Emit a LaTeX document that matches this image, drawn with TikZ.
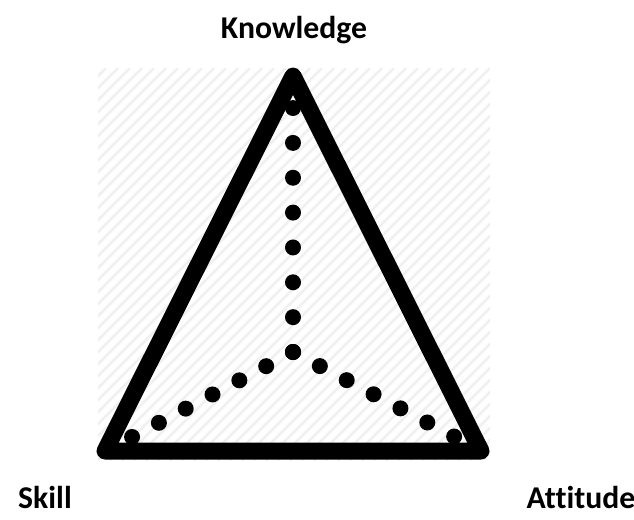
\documentclass[tikz,border=0pt]{standalone}
\usepackage{fontspec}
\setmainfont[Ligatures=NoCommon]{Carlito}
\begin{document}
\begin{tikzpicture}[x=1pt,y=-1pt,
  lbl/.style={font=\fontsize{31.7}{38}\selectfont\bfseries, inner sep=0pt, anchor=base},
  hatch/.style={draw=gray!12, line width=2.5pt},
  tri/.style={draw=black, line width=17pt, line join=round},
  dotline/.style={draw=black, line width=16pt, line cap=round}]
\useasboundingbox (0,0) rectangle (634,519);
% hatched background
\begin{scope}
  \clip (98,68) rectangle (490,460);
  \foreach \k in {-396,-384,...,396} {
    \draw[hatch] (98+\k,460) -- (490+\k,68);
  }
\end{scope}
% triangle
\coordinate (A) at (293,76);
\coordinate (B) at (105,451);
\coordinate (Cc) at (481,451);
\draw[tri] (A) -- (B) -- (Cc) -- cycle;
% dotted spokes
\coordinate (C) at (293,352);
\coordinate (T) at (293,108);
\coordinate (L) at (132,437);
\coordinate (R) at (455,437);
\draw[dotline, dash pattern=on 0pt off 34.85pt] (C) -- (T);
\draw[dotline, dash pattern=on 0pt off 30.33pt] (C) -- (L);
\draw[dotline, dash pattern=on 0pt off 30.33pt] (C) -- (R);
% labels
\node[lbl] (know) at (294,38) {Knowledge};
\node[lbl] (skill) at (45,508) {Skill};
\node[lbl] (att) at (581,508) {Attitude};
\end{tikzpicture}
\end{document}
